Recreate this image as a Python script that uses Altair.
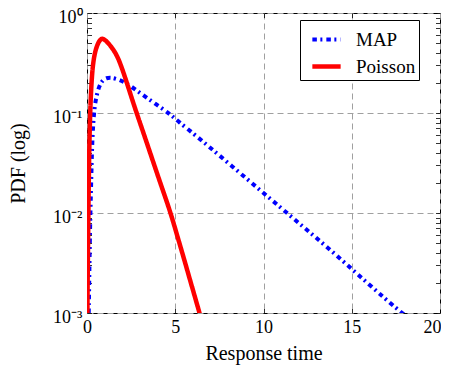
import altair as alt
import pandas as pd

# ---- data (x, log10 of PDF) ----
map_x = [0.10, 0.14, 0.19, 0.25, 0.30, 0.40, 0.50, 0.68, 0.90, 1.10, 1.34, 1.60,
         2.10, 2.76, 3.40, 4.08, 4.74, 5.20, 6.0, 8.0, 10.0, 12.0, 14.0, 16.0, 17.7, 18.2]
map_log10 = [-3.0, -2.5, -2.0, -1.6, -1.25, -0.98, -0.86, -0.73, -0.67, -0.65, -0.645, -0.655,
             -0.685, -0.767, -0.85, -0.933, -1.017, -1.09, -1.2, -1.5, -1.8, -2.1, -2.4, -2.72, -2.98, -3.05]

poisson_x = [0.005, 0.02, 0.05, 0.08, 0.11, 0.15, 0.21, 0.28, 0.34, 0.45, 0.60, 0.75, 0.87,
             1.0, 1.2, 1.45, 1.72, 2.0, 2.28, 2.55, 2.81, 3.2, 3.6, 4.0, 4.35, 4.74,
             5.1, 5.5, 5.95, 6.38, 6.6]
poisson_log10 = [-3.6, -3.0, -2.45, -1.97, -1.55, -1.17, -0.84, -0.63, -0.51, -0.39, -0.31, -0.265, -0.255,
                 -0.265, -0.3, -0.355, -0.43, -0.56, -0.71, -0.86, -1.0, -1.2, -1.41, -1.62, -1.8, -2.0,
                 -2.22, -2.46, -2.74, -3.0, -3.15]

series_names = ["MAP", "Poisson"]
series_colors = ["#0000ff", "#ff0000"]
x_ticks = [0, 5, 10, 15, 20]
x_inner_ticks = [5, 10, 15]
y_major = [0.001, 0.01, 0.1, 1]
y_minor = [k * 10.0 ** e for e in (-3, -2, -1) for k in range(1, 10)] + [1]

rows = []
for name, xs_, ls_ in (("MAP", map_x, map_log10), ("Poisson", poisson_x, poisson_log10)):
    for xv, lv in zip(xs_, ls_):
        rows.append({"series": name, "x": xv, "y": 10 ** lv})
df = pd.DataFrame(rows)

FONT = "Liberation Serif"
xscale = alt.Scale(domain=[0, 20], nice=False, zero=False)
yscale = alt.Scale(type="log", domain=[0.001, 1], nice=False)

label_expr = ("datum.value >= 0.5 ? '10⁰' : datum.value >= 0.05 ? '10⁻¹' : "
              "datum.value >= 0.005 ? '10⁻²' : '10⁻³'")

base = alt.Chart(df)

lines = base.mark_line(clip=True, interpolate="basis", strokeCap="butt").encode(
    x=alt.X("x:Q", scale=xscale, axis=alt.Axis(
        orient="bottom", values=x_ticks, grid=True, gridDash=[6, 4], gridColor="#a0a0a0",
        ticks=False, domain=False, labelFontSize=18, labelPadding=5, labelColor="black",
        labelAlign={"condition": {"test": "datum.value >= 20", "value": "right"}, "value": "center"},
        labelOffset={"condition": {"test": "datum.value >= 20", "value": 1}, "value": 0},
        title="Response time", titleFontSize=20, titleFontWeight="normal", titlePadding=7,
        titleColor="black", labelFlush=False)),
    y=alt.Y("y:Q", scale=yscale, axis=alt.Axis(
        orient="left", values=y_major, labelExpr=label_expr, grid=True, gridDash=[6, 4],
        gridColor="#a0a0a0", ticks=False, domain=False, labelFontSize=18, labelPadding=5,
        labelColor="black", labelOffset=4, title="PDF (log)", titleFontSize=20,
        titleFontWeight="normal", titlePadding=24, titleColor="black", labelFlush=False)),
    color=alt.Color("series:N", scale=alt.Scale(domain=series_names, range=series_colors),
                    legend=alt.Legend(orient="none", legendX=213, legendY=7, title=None,
                                      strokeColor="black", fillColor="white", padding=3,
                                      symbolType="stroke", symbolSize=800, labelFontSize=19,
                                      labelFont=FONT, labelColor="black", labelOffset=13,
                                      symbolOffset=7, rowPadding=0, cornerRadius=0)),
    strokeDash=alt.StrokeDash("series:N", scale=alt.Scale(domain=series_names,
                                                          range=[[4.5, 3.5, 2, 4], [1, 0]])),
    strokeWidth=alt.StrokeWidth("series:N", scale=alt.Scale(domain=series_names, range=[4, 4.5])),
)

tick_common = dict(ticks=True, tickSize=4.5, tickColor="black", tickWidth=0.8,
                   labels=False, domain=False, grid=False, title=None, offset=-4.5)

ticks_a = base.mark_point(opacity=0).encode(
    x=alt.X("x:Q", scale=xscale, axis=alt.Axis(orient="top", values=x_inner_ticks, **tick_common)),
    y=alt.Y("y:Q", scale=yscale, axis=alt.Axis(orient="left", values=y_minor, **tick_common)),
)
ticks_b = base.mark_point(opacity=0).encode(
    x=alt.X("x:Q", scale=xscale, axis=alt.Axis(orient="bottom", values=x_inner_ticks, **tick_common)),
    y=alt.Y("y:Q", scale=yscale, axis=alt.Axis(orient="right", values=y_minor, **tick_common)),
)

chart = alt.layer(lines, ticks_a, ticks_b).resolve_axis(
    x="independent", y="independent"
).properties(
    width=353, height=300, autosize=alt.AutoSizeParams(type="none"),
    padding={"left": 79, "top": 5, "right": 1, "bottom": 52},
).configure(font=FONT).configure_view(stroke="black", strokeWidth=1)

chart.save("out.html", embed_options={"renderer": "svg", "actions": False})
